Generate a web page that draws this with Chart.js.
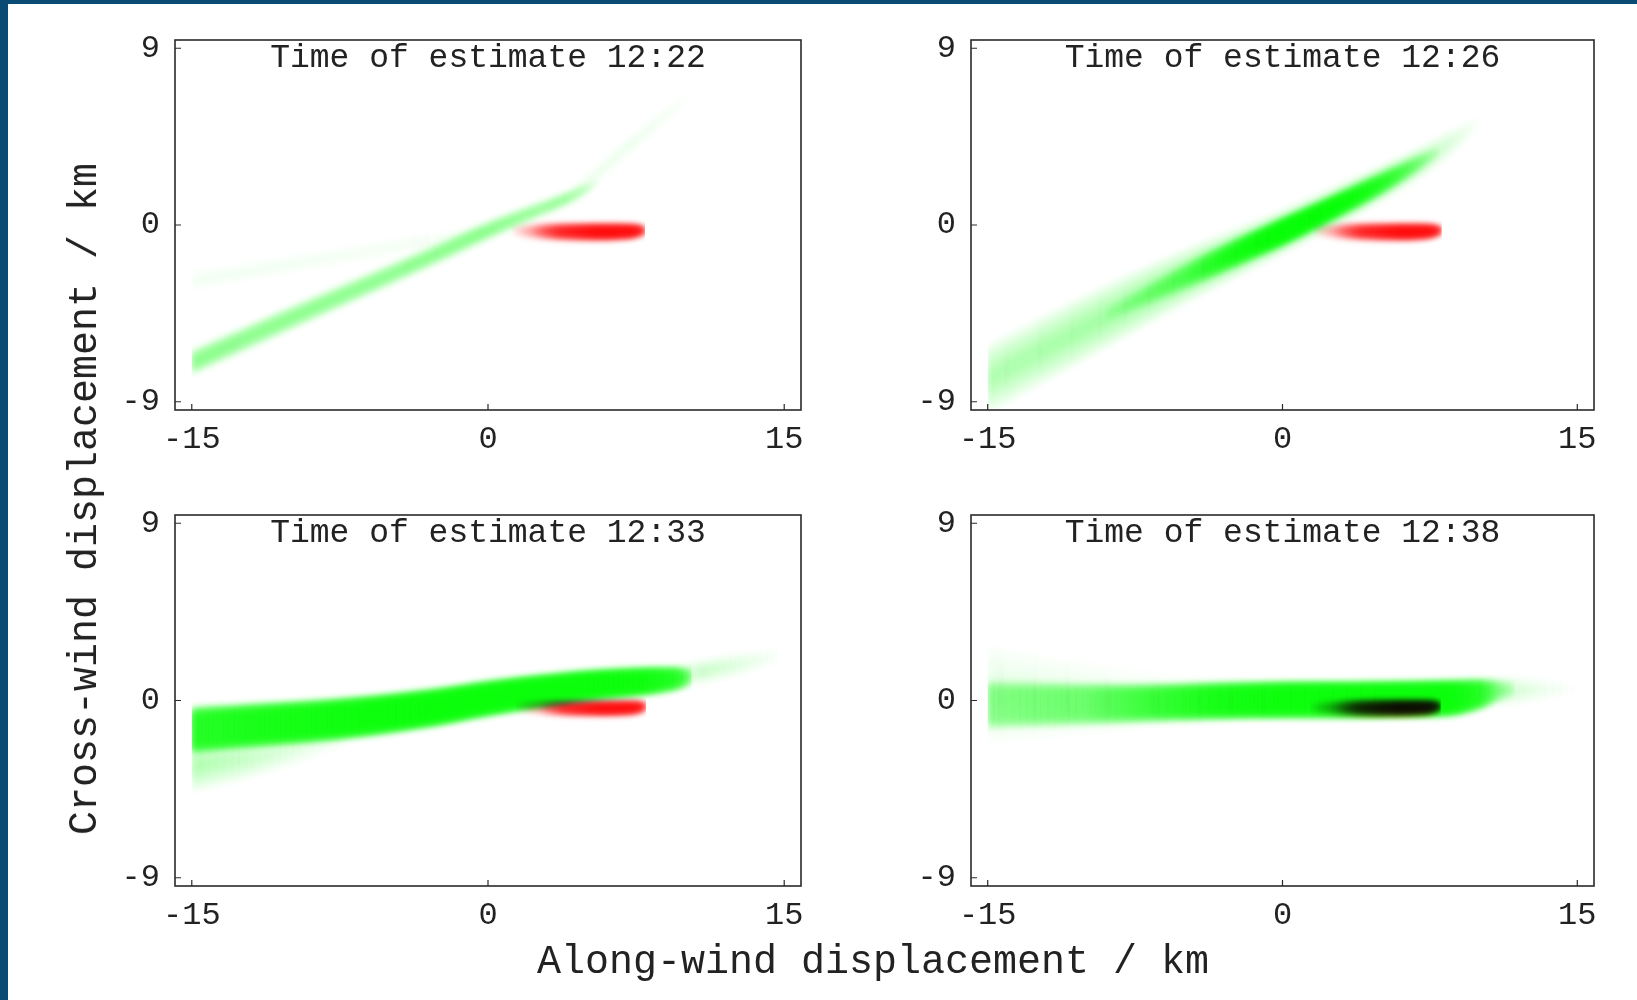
<!DOCTYPE html>
<html>
<head>
<meta charset="utf-8">
<title>Plume estimates</title>
<script src="https://cdn.jsdelivr.net/npm/chart.js@4.4.1/dist/chart.umd.min.js"></script>
<style>
  html, body { margin:0; padding:0; background:#fff; width:1637px; height:1000px; overflow:hidden; }
  body { position:relative; font-family:"Liberation Mono", "DejaVu Sans Mono", monospace; }
  .bar-left { position:absolute; left:0; top:0; width:8px; height:1000px; background:#0a4b73; }
  .bar-top { position:absolute; left:0; top:0; width:1637px; height:4px; background:#0a4b73; }
  canvas { position:absolute; }
  .axt { position:absolute; font-size:40px; line-height:40px; color:#222; white-space:nowrap; }
</style>
</head>
<body>
<div class="bar-left"></div>
<div class="bar-top"></div>
<canvas id="c1" width="756" height="460"></canvas>
<canvas id="c2" width="753" height="460"></canvas>
<canvas id="c3" width="756" height="461"></canvas>
<canvas id="c4" width="753" height="461"></canvas>
<div class="axt" id="xtitle">Along-wind displacement / km</div>
<div class="axt" id="ytitle">Cross-wind displacement / km</div>
<script>
// ---------------- data ----------------
const panelTitles = ['Time of estimate 12:22', 'Time of estimate 12:26', 'Time of estimate 12:33', 'Time of estimate 12:38'];
const xTickValues = [-15, 0, 15];
const yTickValues = [-9, 0, 9];
const xLimits = [-15.85, 15.85];
const yLimits = [-9.42, 9.42];
const domainX = [-15, 15];

// rows: [along-wind x (km), cross-wind centre y (km), half-width (km), intensity 0..1]
// 12:22
const g1Upper = [[-15, -2.85, 0.55, 0.05], [-10, -2.0, 0.5, 0.05], [-5, -1.15, 0.45, 0.04], [-1, -0.45, 0.35, 0.03], [0.5, -0.2, 0.2, 0.01]];
const g1Ext   = [[3.0, 0.9, 0.45, 0.03], [4.5, 1.75, 0.45, 0.08], [7.0, 3.9, 0.45, 0.08], [9.0, 5.6, 0.42, 0.05], [10.3, 6.6, 0.2, 0.01]];
const g1Main  = [[-15, -7.0, 0.62, 0.45], [-10, -4.75, 0.58, 0.44], [-5, -2.55, 0.52, 0.44], [-2, -1.2, 0.48, 0.46], [0, -0.28, 0.45, 0.46], [2, 0.55, 0.38, 0.42], [4, 1.35, 0.3, 0.38], [5, 1.85, 0.2, 0.25], [5.6, 2.2, 0.05, 0.1]];
const r1      = [[1.2, -0.3, 0.2, 0.05], [2.2, -0.32, 0.32, 0.4], [3.6, -0.34, 0.38, 0.88], [5.5, -0.35, 0.4, 0.97], [7.2, -0.32, 0.35, 0.97], [7.7, -0.29, 0.25, 0.95], [7.95, -0.27, 0.1, 0.9]];
// 12:26
const g2Halo  = [[-15, -7.85, 1.7, 0.3], [-10, -5.2, 1.6, 0.34], [-5, -2.65, 1.35, 0.38], [0, -0.35, 1.1, 0.42], [4, 1.6, 0.95, 0.4], [7, 3.2, 0.8, 0.26], [9, 4.5, 0.6, 0.1], [10, 5.3, 0.3, 0.02]];
const g2Core  = [[-9, -4.6, 0.3, 0.1], [-5, -2.65, 0.65, 0.55], [-2, -1.25, 0.7, 0.92], [0, -0.35, 0.7, 0.98], [2.5, 0.85, 0.62, 0.97], [5, 2.1, 0.55, 0.82], [7, 3.2, 0.38, 0.4], [8, 3.8, 0.15, 0.1]];
const r2      = [[1.6, -0.3, 0.2, 0.05], [2.6, -0.32, 0.32, 0.4], [4.0, -0.34, 0.38, 0.88], [6.0, -0.35, 0.4, 0.97], [7.4, -0.32, 0.35, 0.97], [7.85, -0.29, 0.25, 0.95], [8.1, -0.27, 0.1, 0.9]];
// 12:33
const g3Tail  = [[-15, -3.3, 1.3, 0.3], [-12, -2.9, 1.0, 0.2], [-9, -2.4, 0.6, 0.08], [-7, -2.1, 0.2, 0.0]];
const g3Ext   = [[9, 1.1, 0.6, 0.15], [11, 1.5, 0.6, 0.2], [13, 1.9, 0.55, 0.1], [14.7, 2.3, 0.35, 0.03]];
const g3Main  = [[-15, -1.5, 1.15, 0.85], [-12, -1.28, 1.1, 0.9], [-7.5, -0.94, 1.04, 0.94], [-3, -0.4, 0.95, 0.96], [0, 0.1, 0.88, 0.96], [2.5, 0.45, 0.82, 0.96], [5, 0.75, 0.76, 0.96], [8, 0.98, 0.68, 0.94], [9.5, 1.1, 0.56, 0.85], [10.3, 1.2, 0.35, 0.4]];
const r3      = [[1.4, -0.32, 0.2, 0.05], [2.6, -0.36, 0.3, 0.4], [3.9, -0.39, 0.34, 0.88], [5.8, -0.4, 0.35, 0.97], [7.3, -0.37, 0.32, 0.97], [7.75, -0.33, 0.24, 0.95], [8.0, -0.3, 0.1, 0.9]];
// 12:38
const g4Halo  = [[-15, 0.3, 2.4, 0.12], [-10, 0.1, 1.8, 0.08], [-5, 0.0, 1.3, 0.04], [0, 0.0, 1.0, 0.0]];
const g4Ext   = [[9.5, 0.4, 0.75, 0.15], [11.5, 0.5, 0.7, 0.18], [13.2, 0.55, 0.55, 0.08], [14.8, 0.6, 0.3, 0.02]];
const g4Main  = [[-15, -0.22, 1.2, 0.42], [-10, -0.18, 1.05, 0.55], [-7, -0.13, 0.95, 0.75], [-3, -0.02, 0.92, 0.92], [0, 0.03, 0.92, 0.95], [5, 0.05, 0.92, 0.96], [8.5, 0.12, 0.9, 0.96], [10, 0.3, 0.75, 0.85], [11, 0.5, 0.5, 0.4], [11.8, 0.6, 0.3, 0.1]];
const r4      = [[1.4, -0.35, 0.2, 0.05], [2.6, -0.37, 0.32, 0.4], [3.9, -0.38, 0.37, 0.88], [5.8, -0.38, 0.38, 0.97], [7.3, -0.35, 0.34, 0.97], [7.8, -0.31, 0.25, 0.95], [8.05, -0.28, 0.1, 0.9]];

// ---------------- styling ----------------
const GREEN = '0,255,0';
const RED = '255,0,0';
const LAYER_SETS = {                    // nested fills, relative widths
  soft:    [1.0, 0.75, 0.5, 0.25],
  medium:  [1.0, 0.85, 0.68, 0.45],
  plateau: [1.0, 0.93, 0.84, 0.7]
};
const FONT = 'Liberation Mono';
const TEXT = '#222';

const panels = [
  { id: 'c1', left: 175, top: 40,  w: 626, h: 370, title: panelTitles[0],
    bands: [[g1Upper, GREEN, 'soft'], [g1Ext, GREEN, 'soft'], [g1Main, GREEN, 'medium'], [r1, RED, 'medium']] },
  { id: 'c2', left: 971, top: 40,  w: 623, h: 370, title: panelTitles[1],
    bands: [[g2Halo, GREEN, 'soft'], [g2Core, GREEN, 'medium'], [r2, RED, 'medium']] },
  { id: 'c3', left: 175, top: 515, w: 626, h: 371, title: panelTitles[2],
    bands: [[g3Tail, GREEN, 'soft'], [g3Ext, GREEN, 'soft'], [g3Main, GREEN, 'plateau'], [r3, RED, 'medium']] },
  { id: 'c4', left: 971, top: 515, w: 623, h: 371, title: panelTitles[3],
    bands: [[g4Halo, GREEN, 'soft'], [g4Ext, GREEN, 'soft'], [g4Main, GREEN, 'plateau'], [r4, RED, 'medium']] }
];
const M = { padL: 20, axisW: 70, padT: 30, padR: 40, axisH: 50, padB: 10 };

function layerAlpha(I, n) { return 1 - Math.pow(1 - Math.max(0, Math.min(0.995, I)), 1 / n); }

function makeGradient(chart, rows, rgb, n) {
  const xs = chart.scales && chart.scales.x;
  if (!chart.chartArea || !xs) return 'rgba(' + rgb + ',0.2)';
  const p0 = xs.getPixelForValue(rows[0][0]);
  const p1 = xs.getPixelForValue(rows[rows.length - 1][0]);
  const g = chart.ctx.createLinearGradient(p0, 0, p1, 0);
  rows.forEach(r => {
    const t = (xs.getPixelForValue(r[0]) - p0) / (p1 - p0);
    g.addColorStop(Math.max(0, Math.min(1, t)), 'rgba(' + rgb + ',' + layerAlpha(r[3], n).toFixed(3) + ')');
  });
  return g;
}

function bandDatasets(rows, rgb, setName) {
  const widths = LAYER_SETS[setName];
  const out = [];
  const base = { showLine: true, pointRadius: 0, pointHoverRadius: 0, borderWidth: 0, borderColor: 'rgba(0,0,0,0)', tension: 0.35 };
  widths.forEach(f => {
    out.push(Object.assign({}, base, { data: rows.map(r => ({ x: r[0], y: r[1] + r[2] * f })), fill: false }));
    out.push(Object.assign({}, base, { data: rows.map(r => ({ x: r[0], y: r[1] - r[2] * f })), fill: '-1',
      backgroundColor: ctx => makeGradient(ctx.chart, rows, rgb, widths.length) }));
  });
  return out;
}

const densityPlugin = {
  id: 'density',
  beforeDatasetsDraw(chart) {
    const { ctx, chartArea: a, scales: { x } } = chart;
    ctx.save();
    ctx.fillStyle = '#fff';
    ctx.fillRect(a.left, a.top, a.right - a.left, a.bottom - a.top);
    const x0 = x.getPixelForValue(domainX[0]), x1 = x.getPixelForValue(domainX[1]);
    ctx.beginPath();
    ctx.rect(x0, a.top, x1 - x0, a.bottom - a.top);
    ctx.clip();
    ctx.globalCompositeOperation = 'multiply';
    ctx.filter = 'blur(3px)';
  },
  afterDatasetsDraw(chart) { chart.ctx.restore(); }
};

const framePlugin = {
  id: 'frame',
  afterDraw(chart) {
    const { ctx, chartArea: a, scales: { x, y } } = chart;
    ctx.save();
    ctx.strokeStyle = '#2a2a2a';
    ctx.lineWidth = 1.6;
    ctx.strokeRect(a.left, a.top, a.right - a.left, a.bottom - a.top);
    ctx.lineWidth = 1.2;
    ctx.beginPath();
    x.ticks.forEach(t => { const p = x.getPixelForValue(t.value); ctx.moveTo(p, a.bottom); ctx.lineTo(p, a.bottom - 6); });
    y.ticks.forEach(t => { const p = y.getPixelForValue(t.value); ctx.moveTo(a.left, p); ctx.lineTo(a.left + 6, p); });
    ctx.stroke();
    const title = chart.options.plugins.frame.title;
    ctx.fillStyle = TEXT;
    ctx.font = '33px "' + FONT + '"';
    ctx.textAlign = 'center';
    ctx.textBaseline = 'alphabetic';
    ctx.fillText(title, (a.left + a.right) / 2, a.top + 27);
    ctx.restore();
  }
};

panels.forEach(p => {
  const cv = document.getElementById(p.id);
  cv.style.left = (p.left - M.padL - M.axisW) + 'px';
  cv.style.top = (p.top - M.padT) + 'px';
  cv.width = M.padL + M.axisW + p.w + M.padR;
  cv.height = M.padT + p.h + M.axisH + M.padB;
  const datasets = [];
  p.bands.forEach(b => datasets.push(...bandDatasets(b[0], b[1], b[2])));
  new Chart(cv, {
    type: 'line',
    data: { datasets },
    plugins: [densityPlugin, framePlugin],
    options: {
      responsive: false, animation: false, events: [],
      layout: { padding: { left: M.padL, top: M.padT, right: M.padR, bottom: M.padB } },
      plugins: { legend: { display: false }, tooltip: { enabled: false }, frame: { title: p.title } },
      scales: {
        x: {
          type: 'linear', min: xLimits[0], max: xLimits[1],
          afterBuildTicks: s => { s.ticks = xTickValues.map(v => ({ value: v })); },
          afterFit: s => { s.height = M.axisH; s.paddingLeft = 0; s.paddingRight = 0; },
          grid: { display: false, drawTicks: false }, border: { display: false },
          ticks: { padding: 10, color: TEXT, font: { family: FONT, size: 32 }, maxRotation: 0, autoSkip: false, callback: v => String(v) }
        },
        y: {
          type: 'linear', min: yLimits[0], max: yLimits[1],
          afterBuildTicks: s => { s.ticks = yTickValues.map(v => ({ value: v })); },
          afterFit: s => { s.width = M.axisW; s.paddingTop = 0; s.paddingBottom = 0; },
          grid: { display: false, drawTicks: false }, border: { display: false },
          ticks: { padding: 15, color: TEXT, font: { family: FONT, size: 32 }, autoSkip: false, callback: v => String(v) }
        }
      }
    }
  });
});

// shared axis titles
const xt = document.getElementById('xtitle');
xt.style.left = '873px'; xt.style.top = '963px'; xt.style.transform = 'translate(-50%, -50%)';
const yt = document.getElementById('ytitle');
yt.style.left = '86px'; yt.style.top = '499px'; yt.style.transform = 'translate(-50%, -50%) rotate(-90deg)';
</script>
</body>
</html>
